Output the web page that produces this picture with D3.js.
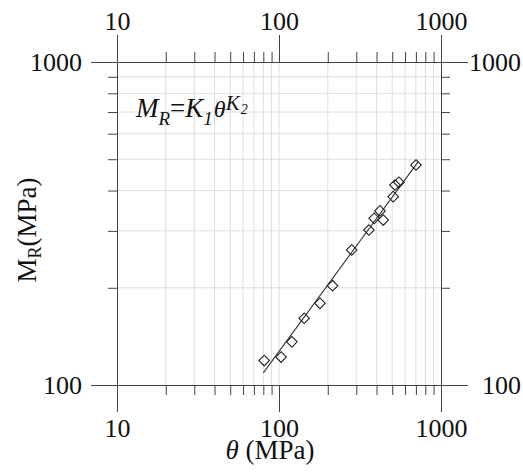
<!DOCTYPE html>
<html>
<head>
<meta charset="utf-8">
<script src="https://cdn.jsdelivr.net/npm/d3@7"></script>
<style>
  body { margin: 0; background: #fff; }
  svg { display: block; }
  text { font-family: "Liberation Serif", "Times New Roman", serif; fill: #111; }
</style>
</head>
<body>
<svg id="chart" width="523" height="474"></svg>
<script>
// ---- data ----
const theta = [81, 103, 120, 143, 179, 214, 281, 359, 387, 420, 440, 507, 520, 550, 701];
const modulus = [119, 122, 136, 161, 179, 203, 262, 302, 328, 346, 324, 383, 416, 424, 480];
const fitTheta = [80, 720];
const fitModulus = [109, 490];
const xMajorTicks = [10, 100, 1000];
const yMajorTicks = [100, 1000];
const xMinorTicks = [20, 30, 40, 50, 60, 70, 80, 90, 200, 300, 400, 500, 600, 700, 800, 900];
const yMinorTicks = [200, 300, 400, 500, 600, 700, 800, 900];
const xGrid = [20, 30, 40, 50, 60, 70, 80, 90, 100, 200, 300, 400, 500, 600, 700, 800, 900];
const yGrid = [200, 300, 400, 500, 600, 700, 800, 900];

// ---- layout ----
const L = 117, R = 441, T = 62, B = 385;
const svg = d3.select("#chart");
const x = d3.scaleLog().domain([10, 1000]).range([L, R]);
const y = d3.scaleLog().domain([100, 1000]).range([B, T]);
const axisColor = "#444";
const fmt = d => String(d);

// grid
svg.append("g").selectAll("line").data(xGrid).join("line")
  .attr("x1", d => x(d)).attr("x2", d => x(d)).attr("y1", T).attr("y2", B)
  .attr("stroke", "#dedede").attr("stroke-width", 1);
svg.append("g").selectAll("line").data(yGrid).join("line")
  .attr("y1", d => y(d)).attr("y2", d => y(d)).attr("x1", L).attr("x2", R)
  .attr("stroke", "#dedede").attr("stroke-width", 1);

function styleAxis(g) {
  g.attr("font-family", null);
  g.selectAll("path, line").attr("stroke", axisColor);
  g.selectAll("text").style("font-size", "26px").attr("fill", "#111")
    .style("font-family", '"Liberation Serif", "Times New Roman", serif');
}

// minor ticks
svg.append("g").attr("transform", `translate(0,${T})`)
  .call(d3.axisTop(x).tickValues(xMinorTicks).tickSize(10).tickFormat("").tickSizeOuter(0))
  .call(g => g.select(".domain").remove()).call(styleAxis);
svg.append("g").attr("transform", `translate(0,${B})`)
  .call(d3.axisBottom(x).tickValues(xMinorTicks).tickSize(10).tickFormat("").tickSizeOuter(0))
  .call(g => g.select(".domain").remove()).call(styleAxis);
svg.append("g").attr("transform", `translate(${L},0)`)
  .call(d3.axisLeft(y).tickValues(yMinorTicks).tickSize(9).tickFormat("").tickSizeOuter(0))
  .call(g => g.select(".domain").remove()).call(styleAxis);
svg.append("g").attr("transform", `translate(${R},0)`)
  .call(d3.axisRight(y).tickValues(yMinorTicks).tickSize(9).tickFormat("").tickSizeOuter(0))
  .call(g => g.select(".domain").remove()).call(styleAxis);

// major axes
svg.append("g").attr("transform", `translate(0,${T})`)
  .call(d3.axisTop(x).tickValues(xMajorTicks).tickSize(27).tickSizeOuter(0).tickPadding(5).tickFormat(fmt))
  .call(styleAxis);
svg.append("g").attr("transform", `translate(0,${B})`)
  .call(d3.axisBottom(x).tickValues(xMajorTicks).tickSize(27).tickSizeOuter(0).tickPadding(7).tickFormat(fmt))
  .call(styleAxis);
svg.append("g").attr("transform", `translate(${L},0)`)
  .call(d3.axisLeft(y).tickValues(yMajorTicks).tickSize(26).tickSizeOuter(0).tickPadding(9).tickFormat(fmt))
  .call(styleAxis);
svg.append("g").attr("transform", `translate(${R},0)`)
  .call(d3.axisRight(y).tickValues(yMajorTicks).tickSize(27).tickSizeOuter(0).tickPadding(9).tickFormat(fmt))
  .call(styleAxis)
  .call(g => g.selectAll("text").attr("text-anchor", "end").attr("x", 80));

// fit line
svg.append("path")
  .datum(fitTheta.map((t, i) => [t, fitModulus[i]]))
  .attr("d", d3.line().x(d => x(d[0])).y(d => y(d[1])))
  .attr("fill", "none").attr("stroke", "#333").attr("stroke-width", 1.1);

// data points (diamonds)
const diamond = d3.symbol().type(d3.symbolSquare).size(56)();
svg.append("g").selectAll("path").data(theta.map((t, i) => [t, modulus[i]])).join("path")
  .attr("d", diamond)
  .attr("transform", d => `translate(${x(d[0])},${y(d[1])}) rotate(45)`)
  .attr("fill", "none").attr("stroke", "#222").attr("stroke-width", 1.1);

// equation
const eq = svg.append("text").attr("x", 136).attr("y", 117)
  .style("font-size", "27px").style("font-style", "italic");
eq.append("tspan").text("M");
eq.append("tspan").attr("dy", 8).style("font-size", "19px").text("R");
eq.append("tspan").attr("dy", -8).style("font-style", "normal").text("=");
eq.append("tspan").text("K");
eq.append("tspan").attr("dy", 8).style("font-size", "19px").text("1");
eq.append("tspan").attr("dy", -8).attr("dx", 1).style("font-size", "24px").text("θ");
eq.append("tspan").attr("dy", -7).style("font-size", "21px").text("K");
eq.append("tspan").attr("dy", 4).attr("dx", 1).style("font-size", "14px").text("2");

// axis titles
const xt = svg.append("text").attr("x", 270).attr("y", 459)
  .attr("text-anchor", "middle").style("font-size", "27px");
xt.append("tspan").style("font-style", "italic").text("θ");
xt.append("tspan").text(" (MPa)");

const yt = svg.append("text").attr("transform", "translate(36,230) rotate(-90)")
  .attr("text-anchor", "middle").style("font-size", "27px");
yt.append("tspan").text("M");
yt.append("tspan").attr("dy", 5).style("font-size", "18px").text("R");
yt.append("tspan").attr("dy", -5).text("(MPa)");
</script>
</body>
</html>
